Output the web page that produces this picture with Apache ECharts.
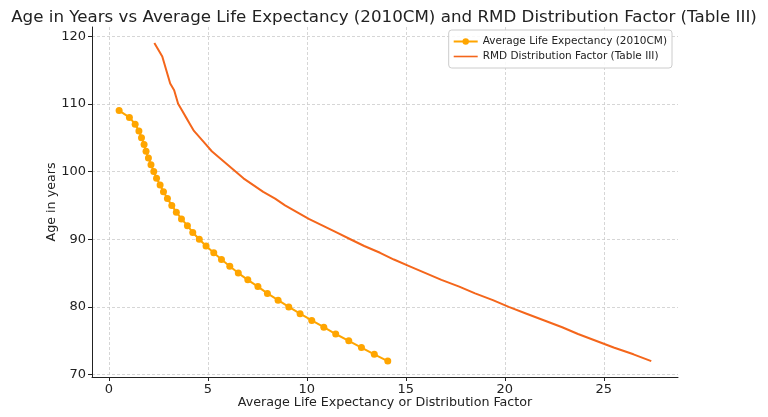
<!DOCTYPE html>
<html><head><meta charset="utf-8">
<script src="https://cdn.jsdelivr.net/npm/echarts@6/dist/echarts.min.js"></script>
<style>html,body{margin:0;padding:0;background:#fff}#c{width:768px;height:417px}</style>
</head><body><div id="c"></div>
<script>
// Ages for life expectancy series (109 down to 72)
const leAges = [109,108,107,106,105,104,103,102,101,100,99,98,97,96,95,94,93,92,91,90,89,88,87,86,85,84,83,82,81,80,79,78,77,76,75,74,73,72];
const lifeExpectancy = [0.52,1.04,1.33,1.52,1.65,1.78,1.88,2.0,2.13,2.27,2.41,2.59,2.76,2.96,3.18,3.41,3.67,3.97,4.24,4.57,4.91,5.30,5.69,6.11,6.54,7.02,7.53,8.01,8.55,9.09,9.66,10.25,10.86,11.46,12.12,12.76,13.41,14.09];
// Ages for RMD Table III (72..119)
const rmdAges = [72,73,74,75,76,77,78,79,80,81,82,83,84,85,86,87,88,89,90,91,92,93,94,95,96,97,98,99,100,101,102,103,104,105,106,107,108,109,110,111,112,113,114,115,116,117,118,119];
const rmdFactor = [27.4,26.5,25.5,24.6,23.7,22.9,22.0,21.1,20.2,19.4,18.5,17.7,16.8,16.0,15.2,14.4,13.7,12.9,12.2,11.5,10.8,10.1,9.5,8.9,8.4,7.8,7.3,6.8,6.4,6.0,5.6,5.2,4.9,4.6,4.3,4.1,3.9,3.7,3.5,3.4,3.3,3.1,3.0,2.9,2.8,2.7,2.5,2.3];
const xTicks = [0,5,10,15,20,25];
const yTicks = [70,80,90,100,110,120];

const font = 'DejaVu Sans';
const chart = echarts.init(document.getElementById('c'), null, {renderer:'canvas'});
const gridLine = {show:true, lineStyle:{color:'#cccccc', type:[3,2], width:0.8}};
chart.setOption({
  animation:false,
  title:{text:'Age in Years vs Average Life Expectancy (2010CM) and RMD Distribution Factor (Table III)', left:'center', top:4,
    textStyle:{fontFamily:font, fontSize:16.7, fontWeight:'normal', color:'#222'}},
  legend:{right:96, top:30, orient:'vertical', itemWidth:24, itemHeight:8, itemGap:4,
    padding:[6,5,6,4], borderColor:'#cccccc', borderWidth:1, borderRadius:3, backgroundColor:'rgba(255,255,255,0.85)',
    textStyle:{fontFamily:font, fontSize:10.5, color:'#222'},
    data:[{name:'Average Life Expectancy (2010CM)'},{name:'RMD Distribution Factor (Table III)', icon:'path://M0,3.2 L24,3.2 L24,4.8 L0,4.8 Z'}]},
  grid:{left:92, right:90, top:27, bottom:40},
  xAxis:{type:'value', min:-0.85, max:28.75,
    name:'Average Life Expectancy or Distribution Factor', nameLocation:'middle', nameGap:19, nameMoveOverlap:false,
    nameTextStyle:{fontFamily:font, fontSize:12.7, color:'#222'},
    axisLine:{onZero:false, lineStyle:{color:'#222', width:1}},
    axisTick:{show:true, customValues:xTicks, length:4, lineStyle:{color:'#222'}},
    axisLabel:{customValues:xTicks, fontFamily:font, fontSize:13, color:'#222', margin:6},
    splitLine:gridLine},
  yAxis:{type:'value', min:69.65, max:121.35,
    name:'Age in years', nameLocation:'middle', nameGap:34, nameMoveOverlap:false,
    nameTextStyle:{fontFamily:font, fontSize:12.7, color:'#222'},
    axisLine:{show:true, onZero:false, lineStyle:{color:'#222', width:1}},
    axisTick:{show:true, customValues:yTicks, length:4, lineStyle:{color:'#222'}},
    axisLabel:{customValues:yTicks, fontFamily:font, fontSize:13, color:'#222', margin:6},
    splitLine:gridLine},
  series:[
    {name:'Average Life Expectancy (2010CM)', type:'line', data:lifeExpectancy.map((v,i)=>[v,leAges[i]]),
      symbol:'circle', symbolSize:7, showSymbol:true, color:'#FFA500', lineStyle:{width:2, color:'#FFA500'}, itemStyle:{color:'#FFA500'}},
    {name:'RMD Distribution Factor (Table III)', type:'line', data:rmdFactor.map((v,i)=>[v,rmdAges[i]]),
      symbol:'none', color:'#F4661B', lineStyle:{width:2, color:'#F4661B'}}
  ]
});
</script></body></html>
